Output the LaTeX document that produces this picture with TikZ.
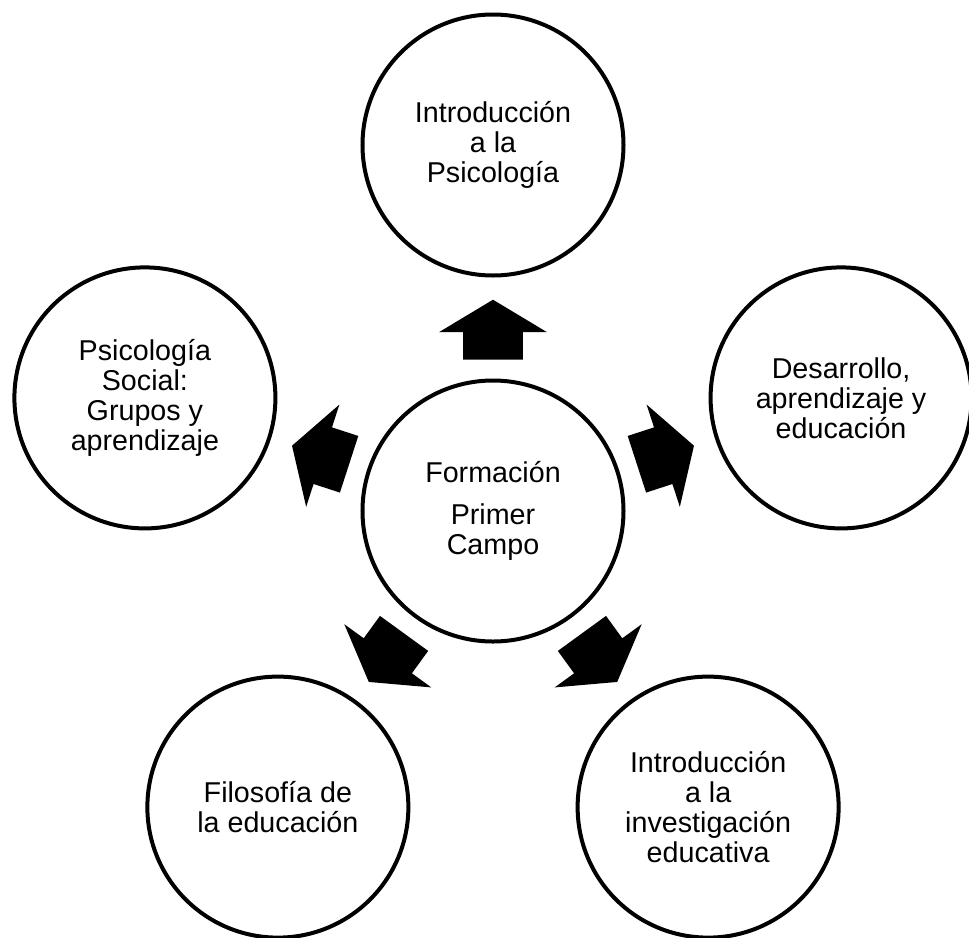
\documentclass[tikz,border=0pt]{standalone}
\usepackage{fontspec}
\setmainfont{Liberation Sans}
\usetikzlibrary{shapes.arrows, calc}
\tikzset{
    campo/.style={
        circle,
        draw=black,
        line width=0.1cm,
        minimum size=6.525cm,
        inner sep=0pt,
        align=center,
        font=\fontsize{20.4pt}{21.3pt}\selectfont
    },
    flecha/.style={
        single arrow,
        fill=black,
        draw=none,
        anchor=tail,
        inner xsep=0pt,
        inner ysep=0.7375cm,
        minimum height=1.5cm,
        single arrow head extend=0.6cm,
        single arrow tip angle=118
    }
}
\begin{document}
\begin{tikzpicture}
\useasboundingbox (-12.325,-10.65) rectangle (11.9,12.775);

\node[campo] (form) at (0,0) {Formación\\[0.32cm]Primer\\Campo};

\node[campo] (intro) at (90:9.15) {Introducción\\a la\\Psicología};
\node[campo] (desa) at (18:9.15) {Desarrollo,\\aprendizaje y\\educación};
\node[campo] (invest) at (-54:9.15) {Introducción\\a la\\investigación\\educativa};
\node[campo] (filo) at (-126:9.15) {Filosofía de\\la educación};
\node[campo] (social) at (162:9.15) {Psicología\\Social:\\Grupos y\\aprendizaje};

% flechas desde el centro
\node[flecha, rotate=90] (f1) at ($(form)!0.4126!(intro)$) {};
\node[flecha, rotate=18] (f2) at ($(form)!0.4126!(desa)$) {};
\node[flecha, rotate=-54] (f3) at ($(form)!0.4126!(invest)$) {};
\node[flecha, rotate=-126] (f4) at ($(form)!0.4126!(filo)$) {};
\node[flecha, rotate=162] (f5) at ($(form)!0.4126!(social)$) {};

\end{tikzpicture}
\end{document}
